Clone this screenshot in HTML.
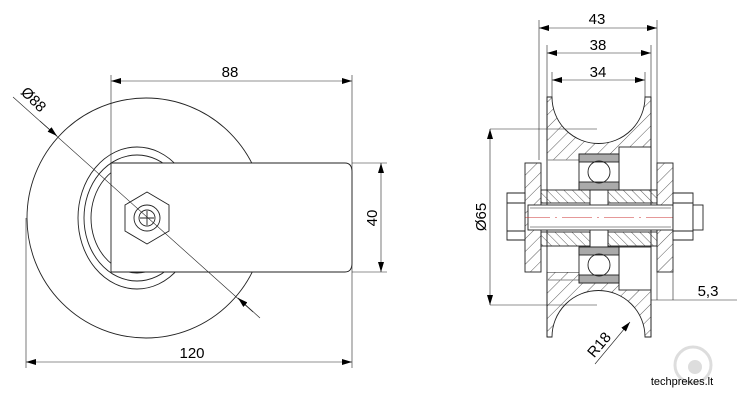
<!DOCTYPE html>
<html><head><meta charset="utf-8"><style>
html,body{margin:0;padding:0;background:#fff;}
svg{display:block;}
text{font-family:"Liberation Sans",sans-serif;fill:#000;}
</style></head><body>
<svg width="737" height="400" viewBox="0 0 737 400" xmlns="http://www.w3.org/2000/svg">
<defs>
<pattern id="h" patternUnits="userSpaceOnUse" width="9" height="9" patternTransform="rotate(45)">
<line x1="0" y1="0" x2="0" y2="9" stroke="#333" stroke-width="0.8"/></pattern>
<pattern id="h2" patternUnits="userSpaceOnUse" width="6" height="6" patternTransform="rotate(-45)">
<line x1="0" y1="0" x2="0" y2="6" stroke="#333" stroke-width="0.8"/></pattern>
<marker id="a" viewBox="0 0 10 6" refX="10" refY="3" markerWidth="10" markerHeight="6" orient="auto-start-reverse" markerUnits="userSpaceOnUse"><path d="M0,0L10,3L0,6z" fill="#000"/></marker>
</defs>
<g fill="none" stroke="#222" stroke-width="0.9">
<!-- left view -->
<ellipse cx="146" cy="218" rx="119" ry="120"/>
<ellipse cx="137" cy="218" rx="59" ry="71"/>
<ellipse cx="137" cy="218" rx="53" ry="63"/>
<ellipse cx="137" cy="218" rx="46" ry="55"/>
<path d="M111,163H345Q352,163 352,172V263Q352,272 345,272H111Z" fill="#fff"/>
<polygon points="147,192 169,205 169,231 147,244 125,231 125,205" fill="#fff"/>
<circle cx="147" cy="218" r="13"/>
<circle cx="147" cy="218" r="8"/>
<path d="M140,218h14M147,211v14"/>
<!-- dims -->
<line x1="111" y1="75" x2="111" y2="163" stroke-width="0.6"/>
<line x1="352" y1="75" x2="352" y2="368" stroke-width="0.6"/>
<line x1="26" y1="218" x2="26" y2="368" stroke-width="0.6"/>
<line x1="111" y1="81" x2="352" y2="81" stroke-width="0.6" marker-start="url(#a)" marker-end="url(#a)"/>
<line x1="26" y1="362" x2="352" y2="362" stroke-width="0.6" marker-start="url(#a)" marker-end="url(#a)"/>
<line x1="352" y1="163" x2="387" y2="163" stroke-width="0.6"/>
<line x1="352" y1="272" x2="387" y2="272" stroke-width="0.6"/>
<line x1="381" y1="163" x2="381" y2="272" stroke-width="0.6" marker-start="url(#a)" marker-end="url(#a)"/>
<line x1="13" y1="97" x2="253" y2="312" stroke-width="0.6"/>
<line x1="40" y1="121" x2="57" y2="136" stroke-width="0.6" marker-end="url(#a)"/>
<line x1="260" y1="318" x2="238" y2="298" stroke-width="0.6" marker-end="url(#a)"/>

<!-- right view -->
<path d="M547,97H552A46,46 0 0 0 645,97H651V160H547Z" fill="url(#h)"/>
<path d="M547,337H552A46,46 0 0 1 645,337H651V272H547Z" fill="url(#h)"/>
<rect x="547" y="160" width="104" height="112" fill="#fff" stroke="none"/>
<line x1="547" y1="97" x2="547" y2="337"/>
<line x1="651" y1="97" x2="651" y2="337"/>
<line x1="547" y1="160" x2="580" y2="160" stroke="#888"/>
<line x1="547" y1="280" x2="580" y2="280" stroke="#888"/>
<rect x="619" y="147" width="32" height="43" fill="#fff"/>
<rect x="619" y="247" width="32" height="43" fill="#fff"/>
<!-- bushings -->
<rect x="541" y="190" width="49" height="13" fill="url(#h2)"/>
<rect x="608" y="190" width="49" height="13" fill="url(#h2)"/>
<rect x="541" y="232" width="49" height="14" fill="url(#h2)"/>
<rect x="608" y="232" width="49" height="14" fill="url(#h2)"/>
<path d="M590,203V247M608,203V247"/>
<!-- bearings -->
<rect x="579" y="154" width="40" height="36" fill="#fff"/>
<rect x="579" y="154" width="40" height="8" fill="#aaa"/>
<rect x="579" y="182" width="40" height="8" fill="#aaa"/>
<circle cx="599" cy="172" r="11"/>
<rect x="579" y="247" width="40" height="36" fill="#fff"/>
<rect x="579" y="247" width="40" height="8" fill="#aaa"/>
<rect x="579" y="275" width="40" height="8" fill="#aaa"/>
<circle cx="599" cy="265" r="11"/>
<!-- washers -->
<rect x="525" y="163" width="16" height="109" fill="url(#h)"/>
<rect x="657" y="163" width="16" height="109" fill="url(#h)"/>
<!-- axle -->
<rect x="528" y="205" width="145" height="25" fill="#fff"/>
<line x1="530" y1="208" x2="671" y2="208" stroke-width="0.5"/>
<line x1="530" y1="227" x2="671" y2="227" stroke-width="0.5"/>
<line x1="520" y1="217.5" x2="700" y2="217.5" stroke="#c33" stroke-width="0.6" stroke-dasharray="30,5,2,5"/>
<path d="M507,193H525V240H507Z" fill="#fff"/>
<path d="M507,203H525M507,231H525"/>
<path d="M673,193H693V240H673Z" fill="#fff"/>
<path d="M673,203H693M673,231H693"/>
<rect x="693" y="205" width="10" height="25" fill="#fff"/>
<!-- dims right -->
<path d="M539,20V160M657,20V163M547,45V97M651,45V97M552,72V97M645,72V97" stroke-width="0.6"/>
<line x1="539" y1="28" x2="657" y2="28" stroke-width="0.6" marker-start="url(#a)" marker-end="url(#a)"/>
<line x1="547" y1="53" x2="651" y2="53" stroke-width="0.6" marker-start="url(#a)" marker-end="url(#a)"/>
<line x1="552" y1="80" x2="645" y2="80" stroke-width="0.6" marker-start="url(#a)" marker-end="url(#a)"/>
<line x1="490" y1="129" x2="597" y2="129" stroke-width="0.6"/>
<line x1="490" y1="305" x2="597" y2="305" stroke-width="0.6"/>
<line x1="490" y1="129" x2="490" y2="305" stroke-width="0.6" marker-start="url(#a)" marker-end="url(#a)"/>
<path d="M657,272V300M673,272V300" stroke-width="0.6"/>
<line x1="651" y1="300" x2="737" y2="300" stroke-width="0.6"/>
<line x1="595" y1="364" x2="630" y2="322" stroke-width="0.6" marker-end="url(#a)"/>
</g>
<text x="230" y="77" font-size="15" text-anchor="middle">88</text>
<text x="192" y="358" font-size="15" text-anchor="middle">120</text>
<text transform="translate(377,218) rotate(-90)" font-size="15" text-anchor="middle">40</text>
<text transform="translate(30,103) rotate(45)" font-size="15" text-anchor="middle">Ø88</text>
<text x="597" y="24" font-size="15" text-anchor="middle">43</text>
<text x="598" y="50" font-size="15" text-anchor="middle">38</text>
<text x="598" y="77" font-size="15" text-anchor="middle">34</text>
<text transform="translate(486,217) rotate(-90)" font-size="15" text-anchor="middle">Ø65</text>
<text x="708" y="296" font-size="15" text-anchor="middle">5,3</text>
<text transform="translate(603,348) rotate(-50)" font-size="15" text-anchor="middle">R18</text>
<circle cx="693" cy="365" r="18" fill="none" stroke="#ddd" stroke-width="3"/>
<circle cx="695" cy="367" r="7" fill="#ddd"/>
<text x="682" y="385" font-size="11" text-anchor="middle">techprekes.lt</text>
</svg>
</body></html>
